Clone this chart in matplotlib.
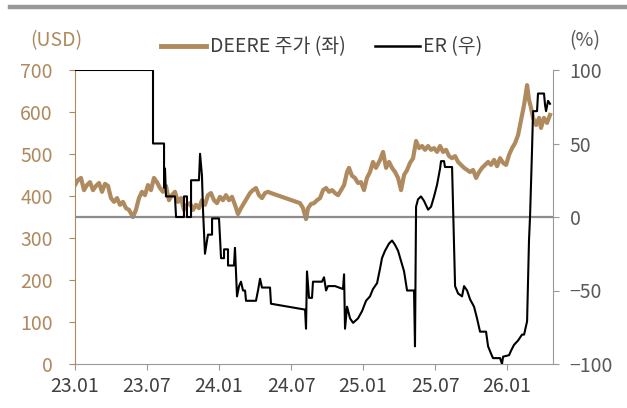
import numpy as np
import matplotlib
matplotlib.use("Agg")
import matplotlib.pyplot as plt
from matplotlib.lines import Line2D

plt.rcParams['font.family'] = ['Noto Sans CJK KR', 'DejaVu Sans']

# months since 2023-01
price_t = [0.0, 0.25, 0.5, 0.75, 1.0, 1.25, 1.5, 1.75, 2.0, 2.25, 2.5, 2.75, 3.0, 3.25, 3.5,
           3.75, 4.0, 4.25, 4.5, 4.83, 5.08, 5.33, 5.58, 5.83, 6.08, 6.33, 6.58, 6.83, 7.08,
           7.33, 7.58, 7.83, 8.08, 8.33, 8.58, 8.83, 9.08, 9.33, 9.58, 9.83, 10.08, 10.33,
           10.58, 10.83, 11.08, 11.33, 11.58, 11.83, 12.08, 12.33, 12.58, 12.83, 13.08, 13.33,
           13.58, 13.83, 14.08, 14.33, 14.58, 14.83, 15.08, 15.33, 15.58, 15.83, 16.08, 16.33,
           18.75, 19.0, 19.25, 19.42, 19.67, 19.92, 20.17, 20.42, 20.67, 20.92, 21.17, 21.42,
           21.67, 21.92, 22.17, 22.42, 22.67, 22.83, 23.08, 23.33, 23.58, 23.83, 24.08, 24.33,
           24.58, 24.83, 25.08, 25.42, 25.67, 25.92, 26.17, 26.42, 26.67, 26.92, 27.17, 27.42,
           27.67, 27.92, 28.17, 28.42, 28.67, 28.92, 29.17, 29.42, 29.67, 29.92, 30.17, 30.42,
           30.67, 30.92, 31.17, 31.42, 31.67, 31.92, 32.17, 32.42, 32.67, 32.92, 33.17, 33.42,
           33.67, 33.92, 34.17, 34.42, 34.67, 34.92, 35.17, 35.42, 35.67, 35.92, 36.17, 36.42,
           36.67, 36.92, 37.17, 37.42, 37.67, 37.83, 38.0, 38.17, 38.42, 38.67, 38.83, 39.08,
           39.33, 39.58]
price = [426, 438, 443, 414, 426, 433, 414, 424, 431, 410, 429, 424, 395, 386, 395,
         379, 386, 371, 367, 350, 367, 395, 410, 402, 426, 414, 443, 433, 419,
         410, 424, 390, 402, 410, 386, 395, 367, 379, 383, 367, 379, 371,
         390, 379, 402, 407, 390, 383, 398, 390, 402, 390, 398, 379,
         357, 371, 383, 395, 407, 414, 419, 402, 395, 407, 410, 407,
         383, 371, 345, 371, 381, 383, 390, 395, 414, 419, 410, 414,
         407, 402, 414, 426, 457, 467, 448, 443, 431, 433, 414, 443,
         457, 481, 467, 486, 505, 467, 481, 467, 457, 443, 414, 450,
         462, 479, 490, 531, 514, 519, 510, 519, 510, 514, 505, 519,
         505, 510, 495, 490, 495, 481, 474, 467, 462, 457, 462, 443,
         457, 467, 474, 481, 474, 486, 471, 490, 479, 474, 498, 514,
         526, 545, 581, 617, 664, 629, 610, 586, 569, 586, 562, 586,
         574, 593]

er_t = [0.0, 6.5, 6.5, 7.42, 7.42, 7.5, 7.58, 8.33, 8.42, 9.08, 9.08, 9.33, 9.33, 9.67,
        9.67, 10.33, 10.42, 10.58, 10.67, 10.83, 11.0, 11.08, 11.42, 11.42, 12.0, 12.17,
        12.42, 12.42, 12.75, 12.75, 13.25, 13.33, 13.5, 13.67, 13.83, 14.0, 14.17, 14.25,
        15.08, 15.25, 15.42, 15.58, 16.25, 16.33, 19.17, 19.25, 19.33, 19.5, 19.75, 19.83,
        20.58, 20.75, 20.92, 21.08, 21.67, 22.33, 22.42, 22.5, 22.67, 22.92, 23.17, 23.58,
        23.92, 24.25, 24.58, 24.83, 25.17, 25.42, 25.58, 25.83, 26.17, 26.42, 26.67, 26.92,
        27.17, 27.42, 27.67, 28.25, 28.33, 28.42, 28.58, 28.83, 29.08, 29.42, 29.67, 29.92,
        30.17, 30.42, 30.5, 30.75, 30.83, 31.42, 31.67, 31.92, 32.25, 32.42, 32.67, 32.92,
        33.25, 33.5, 33.75, 34.25, 34.42, 34.67, 34.83, 35.42, 35.58, 35.67, 36.17, 36.33,
        36.58, 36.92, 37.25, 37.42, 37.67, 37.83, 37.92, 38.08, 38.17, 38.5, 38.58, 39.08,
        39.17, 39.25, 39.42, 39.58]
er = [100, 100, 50, 50, 20, 33, 14, 14, 0, 0, 14, 14, 0, 0,
      25, 25, 43, 28, 4, -25, -16, -12, -12, -1, -1, -28,
      -28, -22, -22, -33, -33, -21, -54, -47, -44, -50, -50, -57,
      -57, -50, -42, -48, -48, -59, -63, -76, -37, -55, -55, -44,
      -44, -41, -50, -47, -47, -49, -39, -76, -61, -69, -72, -69,
      -64, -57, -54, -49, -45, -35, -28, -23, -18, -16, -19, -23,
      -30, -37, -50, -50, -88, 7, 12, 14, 11, 5, 7, 14,
      22, 33, 38, 38, 34, 34, -47, -52, -54, -47, -50, -56,
      -61, -69, -78, -78, -88, -93, -96, -96, -100, -95, -94, -91,
      -87, -84, -80, -80, -71, -16, 1, 45, 72, 72, 84, 84,
      76, 72, 79, 77]

x_ticks = [0, 6, 12, 18, 24, 30, 36]
x_labels = ["23.01", "23.07", "24.01", "24.07", "25.01", "25.07", "26.01"]

TAN = "#AF8A5E"
GRAY = "#999999"
TXT = "#404040"

fig = plt.figure(figsize=(6.27, 4.08), dpi=100)
ax = fig.add_axes([75/627, 44/408, 478/627, 294/408])
ax2 = ax.twinx()

ax.plot(price_t, price, color=TAN, lw=3.0, solid_joinstyle='round', zorder=2)
ax2.axhline(0, color="#8C8C8C", lw=1.6, zorder=1)
ax2.plot(er_t, er, color="black", lw=1.5, zorder=3)

ax.set_xlim(0, 39.83)
ax.set_ylim(0, 700)
ax2.set_ylim(-100, 100)
ax.set_yticks(range(0, 701, 100))
ax2.set_yticks([-100, -50, 0, 50, 100])
ax.set_xticks(x_ticks)
ax.set_xticklabels(x_labels)

ax.spines["top"].set_visible(False)
ax2.spines["top"].set_visible(False)
ax2.spines["left"].set_visible(False)
ax2.spines["bottom"].set_visible(False)
ax.spines["right"].set_visible(False)
ax.spines["left"].set_color(TAN)
ax.spines["bottom"].set_color(GRAY)
ax2.spines["right"].set_color(GRAY)

ax.tick_params(axis="y", colors=TAN, labelcolor=TAN, length=4, pad=12, labelsize=14)
ax.tick_params(axis="x", colors=GRAY, labelcolor=TXT, length=4, pad=5, labelsize=14)
ax2.tick_params(axis="y", colors=GRAY, labelcolor="#595959", length=4, pad=8, labelsize=14)
for lab in ax.get_yticklabels() + ax.get_xticklabels() + ax2.get_yticklabels():
    lab.set_fontweight("light")

fig.text(30/627, 1 - 41/408, "(USD)", color=TAN, fontsize=14, va="center", ha="left", fontweight="light")
fig.text(600/627, 1 - 41/408, "(%)", color="#595959", fontsize=14, va="center", ha="right", fontweight="light")

handles = [Line2D([], [], color=TAN, lw=3.5), Line2D([], [], color="black", lw=1.8)]
leg = fig.legend(handles, ["DEERE 주가 (좌)", "ER (우)"], loc="center", ncol=2,
                 bbox_to_anchor=(322/627, 1 - 47/408), frameon=False, fontsize=14,
                 handlelength=2.3, handletextpad=0.2, columnspacing=1.5)
for t in leg.get_texts():
    t.set_color(TXT)
    t.set_fontweight("light")

# top grey rule
fig.add_artist(Line2D([10/627, 1], [1 - 7/408, 1 - 7/408], color=GRAY, lw=3.2,
                      transform=fig.transFigure))

fig.savefig("out.png", dpi=100)
